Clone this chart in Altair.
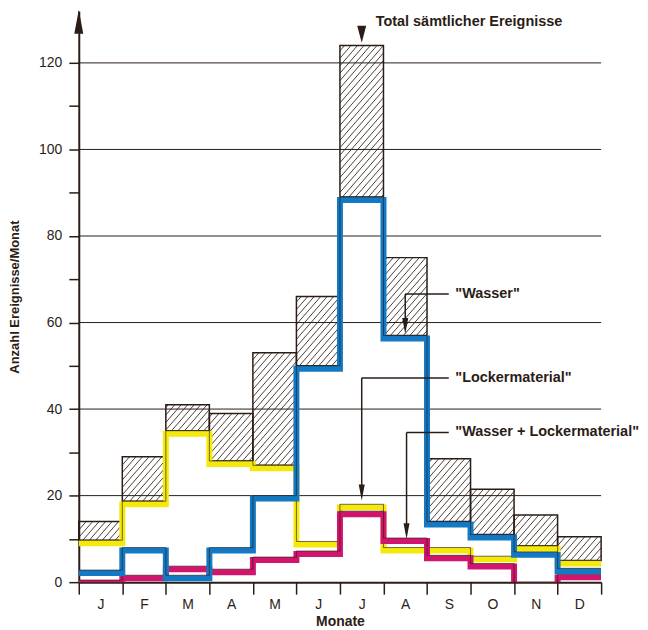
import math
import altair as alt
import pandas as pd

# ---- data ----
months = ["J", "F", "M", "A", "M", "J", "J", "A", "S", "O", "N", "D"]
total = [14, 29, 41, 39, 53, 66, 124, 75, 28.5, 21.5, 15.5, 10.5]
wasser = [2.8, 8, 1.6, 8, 20, 50, 89, 57, 14, 11, 7, 3.2]
locker = [9.7, 18.7, 35, 28, 27, 9.4, 18, 8, 8, 6, 8.4, 5]
wasser_locker = [0.5, 1.6, 3.7, 3, 5.8, 7.2, 16.4, 10.2, 6.2, 4.3, 0, 1.8]
y_ticks = list(range(0, 130, 10))
grid_values = [20, 40, 60, 80, 100, 120]

# ---- layout / style ----
W, H = 524, 573
YMAX = 132
DARK = "#2b1d16"
BLUE = "#1479c4"
YELLOW = "#f5e90c"
MAGENTA = "#d1156f"
FONT = "Liberation Sans"

kx = W / 12
ky = H / YMAX

n = len(months)
lower = [max(wasser[i], locker[i], wasser_locker[i]) for i in range(n)]

boxes = pd.DataFrame({
    "x": list(range(n)), "x2": [i + 1 for i in range(n)],
    "y": lower, "y2": total,
})

# hatch texture computed from the boxes (diagonal lines)
s, a = 6.5, 1.15
segs = []
for i in range(n):
    X0, X1 = i * kx, (i + 1) * kx
    Y0, Y1 = lower[i] * ky, total[i] * ky
    kmin = math.floor((X0 - Y1 / a) / s) - 1
    kmax = math.ceil((X1 - Y0 / a) / s) + 1
    for k in range(kmin, kmax + 1):
        c = k * s
        xa = max(X0, Y0 / a + c)
        xb = min(X1, Y1 / a + c)
        if xb - xa > 0.4:
            segs.append({"x": xa / kx, "y": a * (xa - c) / ky,
                         "x2": xb / kx, "y2": a * (xb - c) / ky})
hatch = pd.DataFrame(segs)


def step_df(vals):
    return pd.DataFrame({"x": list(range(n)) + [n], "y": list(vals) + [vals[-1]]})


xs = alt.Scale(domain=[0, 12], nice=False, zero=False)
ys = alt.Scale(domain=[0, YMAX], nice=False)

month_arr = "[" + ",".join("'%s'" % m for m in months) + "]"

x_axis = alt.Axis(
    values=list(range(13)), title="Monate", tickSize=12, tickWidth=1.5,
    labelExpr="datum.value < 12 ? %s[datum.value] : ''" % month_arr,
    labelOffset=kx / 2, labelPadding=3, labelFontSize=14, labelFont=FONT,
    labelColor=DARK, titleFont=FONT, titleFontSize=14, titleFontWeight="bold",
    titleColor=DARK, titlePadding=3, domainWidth=2, domainColor=DARK,
    tickColor=DARK, grid=False, labelFlush=False)
y_axis = alt.Axis(
    values=y_ticks, title="Anzahl Ereignisse/Monat", tickSize=10, tickWidth=1.5,
    labelExpr="datum.value % 20 == 0 ? datum.label : ''",
    labelPadding=7, labelFontSize=14, labelFont=FONT, labelColor=DARK,
    titleFont=FONT, titleFontSize=13, titleFontWeight="bold", titleColor=DARK,
    titlePadding=17, domainWidth=2, domainColor=DARK, tickColor=DARK, grid=False)


def X():
    return alt.X("x:Q", scale=xs, axis=x_axis)


def Y():
    return alt.Y("y:Q", scale=ys, axis=y_axis)


grid = alt.Chart(pd.DataFrame({"y": grid_values})).mark_rule(
    color=DARK, strokeWidth=1).encode(y=Y())

hatch_layer = alt.Chart(hatch).mark_rule(color=DARK, strokeWidth=0.85).encode(
    x=X(), y=Y(), x2="x2:Q", y2="y2:Q")

box_layer = alt.Chart(boxes).mark_rect(
    fillOpacity=0, stroke=DARK, strokeWidth=1.5).encode(
    x=X(), x2="x2:Q", y=Y(), y2="y2:Q")


def band(vals, color):
    df = step_df(vals)
    b = alt.Chart(df).mark_line(interpolate="step-after", color=color,
                                strokeWidth=6, yOffset=3, strokeCap="butt",
                                clip=True).encode(x=X(), y=Y())
    edge = alt.Chart(df).mark_line(interpolate="step-after", color=DARK,
                                   strokeWidth=0.8, opacity=0.8,
                                   clip=True).encode(x=X(), y=Y())
    return b + edge


# annotations (data coordinates)
labels = pd.DataFrame({
    "x": [6.82, 8.65, 8.65, 8.65],
    "y": [129.5, 66.6, 47.2, 34.6],
    "t": ["Total sämtlicher Ereignisse", "\"Wasser\"", "\"Lockermaterial\"",
          "\"Wasser + Lockermaterial\""],
})
leaders = pd.DataFrame({
    "x": [7.5, 7.5, 6.5, 6.5, 7.53, 7.53],
    "y": [66.6, 66.6, 47.2, 47.2, 34.6, 34.6],
    "x2": [8.5, 7.5, 8.5, 6.5, 8.5, 7.53],
    "y2": [66.6, 60.5, 47.2, 22.0, 34.6, 13.0],
})
heads = pd.DataFrame({"x": [7.5, 6.5, 7.53], "y": [59.2, 20.7, 11.8]})

text_layer = alt.Chart(labels).mark_text(
    align="left", baseline="middle", font=FONT, fontSize=14.5, fontWeight="bold",
    color=DARK).encode(x=X(), y=Y(), text="t:N")
leader_layer = alt.Chart(leaders).mark_rule(color=DARK, strokeWidth=1.5).encode(
    x=X(), y=Y(), x2="x2:Q", y2="y2:Q")
head_layer = alt.Chart(heads).mark_point(
    shape="M-0.375,-1L0.375,-1L0,1Z", size=256, filled=True, opacity=1,
    color=DARK).encode(x=X(), y=Y())
total_head = alt.Chart(pd.DataFrame({"x": [6.5], "y": [126.6]})).mark_point(
    shape="M-0.53,-1L0.53,-1L0,1Z", size=289, filled=True, opacity=1,
    color=DARK).encode(x=X(), y=Y())
axis_head = alt.Chart(pd.DataFrame({"x": [0], "y": [129.5]})).mark_point(
    shape="M0,-1L0.375,1L-0.375,1Z", size=576, filled=True, opacity=1,
    color=DARK).encode(x=X(), y=Y())

chart = alt.layer(
    grid, hatch_layer, box_layer,
    band(locker, YELLOW), band(wasser_locker, MAGENTA), band(wasser, BLUE),
    leader_layer, head_layer, total_head, axis_head, text_layer,
).properties(
    width=W, height=H, padding={"top": 0, "left": 0, "right": 0, "bottom": 0},
    background="white",
).configure_view(stroke=None)

chart.save("out.html", embed_options={"renderer": "svg", "actions": False})
